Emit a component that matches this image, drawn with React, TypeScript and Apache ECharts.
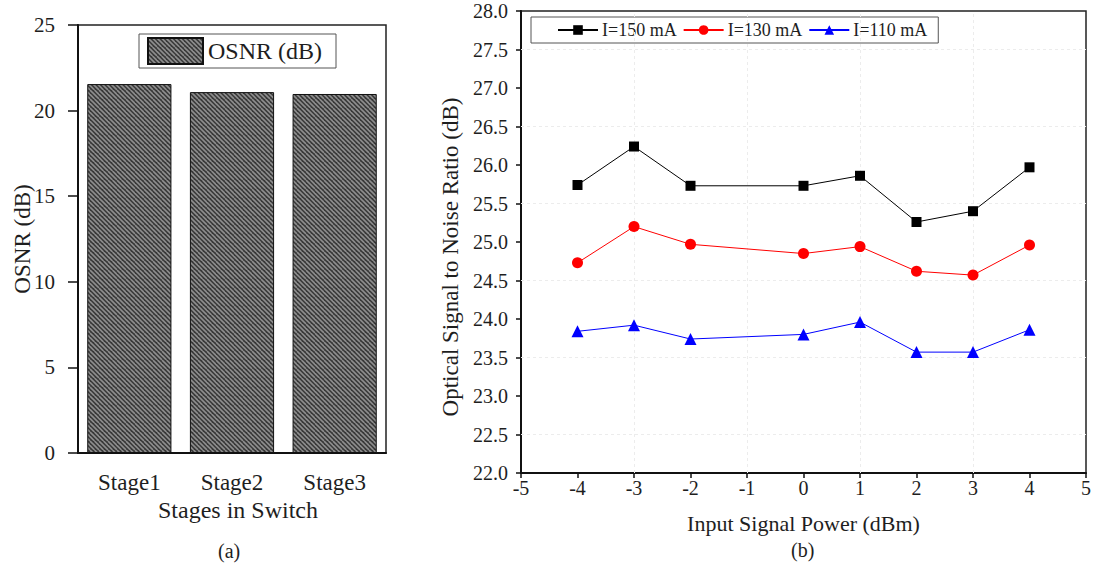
import React, { useEffect, useRef } from "react";
import * as echarts from "echarts";

const stages = ["Stage1", "Stage2", "Stage3"];
const osnrStage = [21.55, 21.08, 20.97];
const leftYTicks = { min: 0, max: 25, interval: 5 };

const powerX = [-4, -3, -2, 0, 1, 2, 3, 4];
const osnr150 = [25.74, 26.24, 25.73, 25.73, 25.86, 25.26, 25.4, 25.97];
const osnr130 = [24.73, 25.2, 24.97, 24.85, 24.94, 24.62, 24.57, 24.96];
const osnr110 = [23.84, 23.92, 23.74, 23.8, 23.96, 23.57, 23.57, 23.86];
const gridX = [-3, -1, 1, 3];
const gridY = [22.5, 23.5, 24.5, 25.5, 26.5, 27.5];

const FONT = "Liberation Serif";
const TXT = "#1e1e1e";

function makeHatch(): HTMLCanvasElement {
  const s = 9;
  const c = document.createElement("canvas");
  c.width = s;
  c.height = s;
  const ctx = c.getContext("2d")!;
  ctx.fillStyle = "#383838";
  ctx.fillRect(0, 0, s, s);
  ctx.strokeStyle = "#8e8e8e";
  ctx.lineWidth = 1.6;
  for (const k of [-9, -4.5, 0, 4.5, 9]) {
    ctx.beginPath();
    ctx.moveTo(k, 0);
    ctx.lineTo(k + s, s);
    ctx.stroke();
  }
  return c;
}

export default function App() {
  const ref = useRef<HTMLDivElement>(null);
  useEffect(() => {
    if (!ref.current) return;
    const chart = echarts.init(ref.current, null, { renderer: "svg" });
    const hatch = makeHatch();
    const pattern: any = { image: hatch, repeat: "repeat", imageWidth: 9, imageHeight: 9 };
    const tickLabel = { fontFamily: FONT, color: TXT };
    const option: any = {
      animation: false,
      backgroundColor: "#ffffff",
      textStyle: { fontFamily: FONT },
      grid: [
        { left: 78, top: 25, width: 308, height: 428, show: true, borderColor: "#222", borderWidth: 1.5, backgroundColor: "transparent" },
        { left: 521, top: 11, width: 568, height: 462, show: true, borderColor: "#222", borderWidth: 1.5, backgroundColor: "transparent" },
      ],
      legend: [
        {
          data: ["OSNR (dB)"],
          left: 139,
          top: 34,
          icon: "rect",
          itemWidth: 55,
          itemHeight: 26,
          padding: [3, 14, 3, 8],
          borderColor: "#555",
          borderWidth: 1,
          textStyle: { fontFamily: FONT, fontSize: 24, color: TXT },
        },
        {
          data: ["I=150 mA", "I=130 mA", "I=110 mA"],
          left: 531,
          top: 17,
          itemWidth: 40,
          itemHeight: 12,
          itemGap: 6,
          padding: [4, 11, 4, 26],
          borderColor: "#555",
          borderWidth: 1,
          textStyle: { fontFamily: FONT, fontSize: 18, color: TXT, padding: [0, 0, 0, -1] },
        },
      ],
      xAxis: [
        {
          type: "category",
          gridIndex: 0,
          data: stages,
          name: "Stages in Switch",
          nameLocation: "middle",
          nameGap: 45,
          nameMoveOverlap: false,
          nameTextStyle: { fontFamily: FONT, fontSize: 24, color: TXT, padding: [0, 0, 0, 12] },
          axisLine: { lineStyle: { color: "#111", width: 2 } },
          axisTick: { alignWithLabel: true, length: 10, lineStyle: { color: "#111", width: 1.5 } },
          axisLabel: { ...tickLabel, fontSize: 23, margin: 18 },
        },
        {
          type: "category",
          gridIndex: 0,
          data: stages,
          position: "bottom",
          axisLine: { show: false },
          axisTick: { length: 6, lineStyle: { color: "#111", width: 1.5 } },
          axisLabel: { show: false },
        },
        {
          type: "value",
          gridIndex: 1,
          min: -5,
          max: 5,
          interval: 1,
          name: "Input Signal Power (dBm)",
          nameLocation: "middle",
          nameGap: 39,
          nameMoveOverlap: false,
          nameTextStyle: { fontFamily: FONT, fontSize: 22, color: TXT },
          axisLine: { onZero: false, lineStyle: { color: "#111", width: 2 } },
          axisTick: { length: 5, lineStyle: { color: "#111", width: 1.5 } },
          axisLabel: { ...tickLabel, fontSize: 20, margin: 5 },
          splitLine: { show: false },
        },
      ],
      yAxis: [
        {
          type: "value",
          gridIndex: 0,
          min: leftYTicks.min,
          max: leftYTicks.max,
          interval: leftYTicks.interval,
          name: "OSNR (dB)",
          nameLocation: "middle",
          nameGap: 44,
          nameMoveOverlap: false,
          nameTextStyle: { fontFamily: FONT, fontSize: 23, color: TXT },
          axisLine: { show: true, lineStyle: { color: "#111", width: 2 } },
          axisTick: { show: true, length: 10, lineStyle: { color: "#111", width: 1.5 } },
          axisLabel: { ...tickLabel, fontSize: 21, margin: 23 },
          splitLine: { show: false },
        },
        {
          type: "value",
          gridIndex: 1,
          min: 22,
          max: 28,
          interval: 0.5,
          name: "Optical Signal to Noise Ratio (dB)",
          nameLocation: "middle",
          nameGap: 59,
          nameMoveOverlap: false,
          nameTextStyle: { fontFamily: FONT, fontSize: 23, color: TXT, padding: [0, 30, 0, 0] },
          axisLine: { show: true, onZero: false, lineStyle: { color: "#111", width: 2 } },
          axisTick: { show: true, length: 5, lineStyle: { color: "#111", width: 1.5 } },
          axisLabel: { ...tickLabel, fontSize: 20, margin: 13, formatter: (v: number) => v.toFixed(1) },
          splitLine: { show: false },
        },
      ],
      series: [
        {
          name: "OSNR (dB)",
          type: "bar",
          xAxisIndex: 0,
          yAxisIndex: 0,
          data: osnrStage,
          barCategoryGap: "18%",
          itemStyle: { color: pattern, borderColor: "#111", borderWidth: 1 },
        },
        {
          name: "I=150 mA",
          type: "line",
          xAxisIndex: 2,
          yAxisIndex: 1,
          data: powerX.map((x, i) => [x, osnr150[i]]),
          symbol: "rect",
          symbolSize: 10,
          color: "#000000",
          lineStyle: { color: "#000", width: 1 },
          itemStyle: { color: "#000" },
          markLine: {
            silent: true,
            symbol: ["none", "none"],
            label: { show: false },
            lineStyle: { color: "#ececec", type: [3, 3], width: 1 },
            data: [...gridX.map((x) => ({ xAxis: x })), ...gridY.map((y) => ({ yAxis: y }))],
          },
          z: 5,
        },
        {
          name: "I=130 mA",
          type: "line",
          xAxisIndex: 2,
          yAxisIndex: 1,
          data: powerX.map((x, i) => [x, osnr130[i]]),
          symbol: "circle",
          symbolSize: 11,
          color: "#ff0000",
          lineStyle: { color: "#ff0000", width: 1 },
          itemStyle: { color: "#ff0000" },
          z: 5,
        },
        {
          name: "I=110 mA",
          type: "line",
          xAxisIndex: 2,
          yAxisIndex: 1,
          data: powerX.map((x, i) => [x, osnr110[i]]),
          symbol: "triangle",
          symbolSize: 12,
          color: "#0000ff",
          lineStyle: { color: "#0000ff", width: 1 },
          itemStyle: { color: "#0000ff" },
          z: 5,
        },
      ],
      graphic: [
        { type: "text", left: 218, top: 541, style: { text: "(a)", fontFamily: FONT, fontSize: 20, fill: TXT } },
        { type: "text", left: 791, top: 540, style: { text: "(b)", fontFamily: FONT, fontSize: 20, fill: TXT } },
      ],
    };
    chart.setOption(option);
    return () => chart.dispose();
  }, []);
  return (
    <div
      ref={ref}
      style={{ position: "absolute", left: 0, top: 0, width: 1094, height: 569, background: "#fff" }}
    />
  );
}
